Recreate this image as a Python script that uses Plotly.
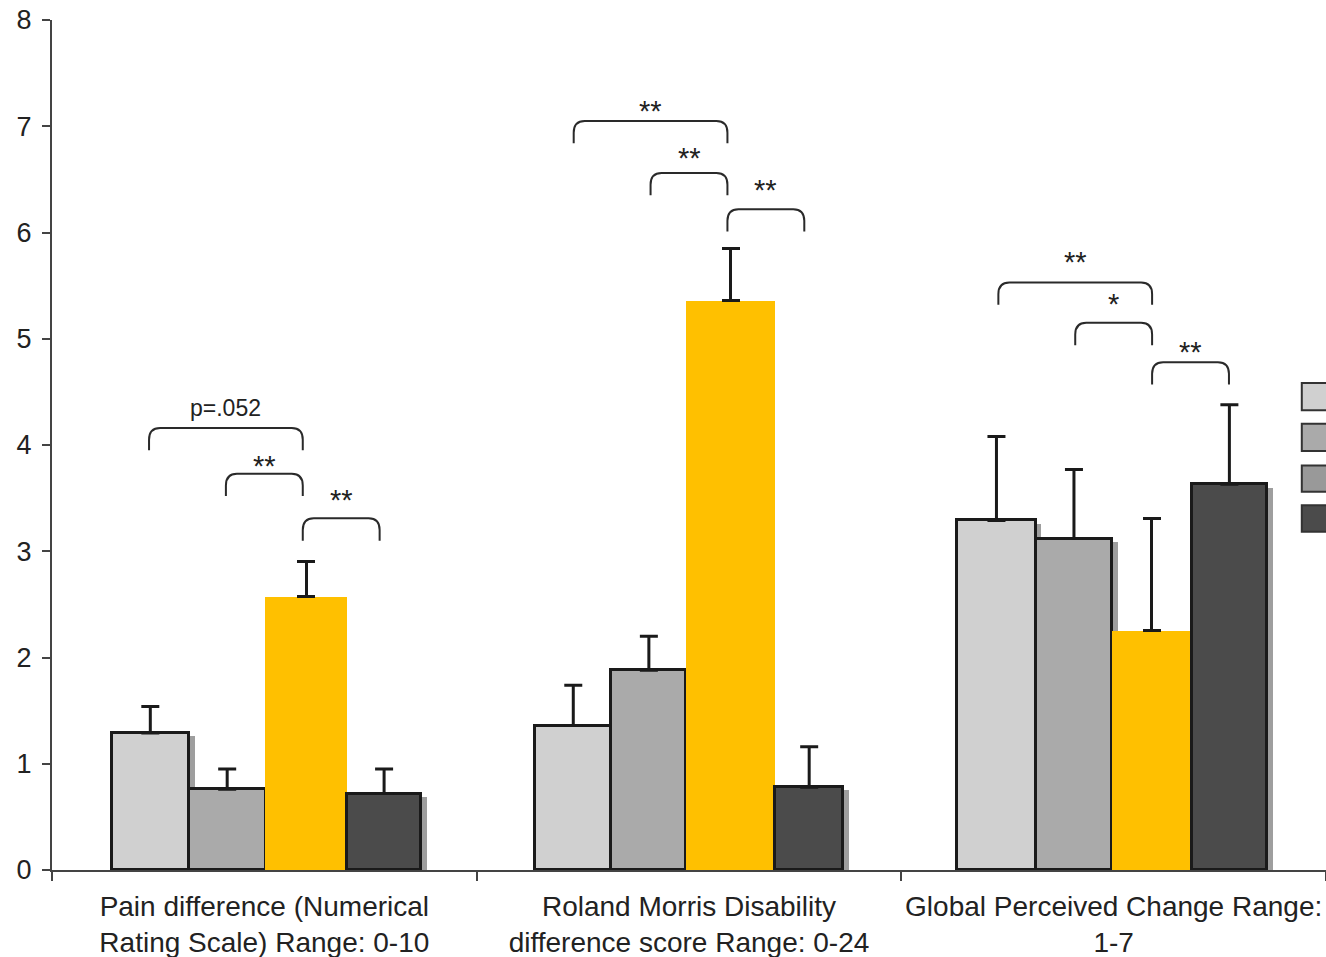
import plotly.graph_objects as go

# Outcome measures (x categories)
categories = [
    "Pain difference (Numerical<br>Rating Scale) Range: 0-10",
    "Roland Morris Disability<br>difference score Range: 0-24",
    "Global Perceived Change Range:<br>1-7",
]

# Group means and upper error (SE) per treatment arm
series_names = ["Group A", "Group B", "Group C", "Group D"]
means_a = [1.29, 1.36, 3.29]
means_b = [0.76, 1.88, 3.12]
means_c = [2.57, 5.36, 2.25]
means_d = [0.72, 0.78, 3.63]
err_top_a = [1.54, 1.74, 4.08]
err_top_b = [0.95, 2.20, 3.77]
err_top_c = [2.90, 5.85, 3.31]
err_top_d = [0.95, 1.16, 4.38]

# Significance brackets: (category, from bar, to bar, bracket height, label height, label)
brackets = [
    (0, 0, 2, 4.16, 4.35, "p=.052"),
    (0, 1, 2, 3.73, 3.88, "**"),
    (0, 2, 3, 3.31, 3.56, "**"),
    (1, 0, 2, 7.05, 7.22, "**"),
    (1, 1, 2, 6.56, 6.78, "**"),
    (1, 2, 3, 6.22, 6.48, "**"),
    (2, 0, 2, 5.53, 5.80, "**"),
    (2, 1, 2, 5.15, 5.40, "*"),
    (2, 2, 3, 4.78, 4.95, "**"),
]

means = [means_a, means_b, means_c, means_d]
err_tops = [err_top_a, err_top_b, err_top_c, err_top_d]

fills = ["#d0d0d0", "#aaaaaa", "#ffc000", "#4b4b4b"]
outline = ["#1a1a1a", "#1a1a1a", None, "#1a1a1a"]
# bar placement within each category (per category, in axis units)
offsets = [
    [-0.359, -0.362, -0.368],
    [-0.178, -0.183, -0.184],
    [0.002, -0.007, -0.004],
    [0.195, 0.203, 0.184],
]
widths = [
    [0.181, 0.179, 0.184],
    [0.181, 0.177, 0.181],
    [0.193, 0.210, 0.188],
    [0.174, 0.160, 0.177],
]
slot_start, slot_w = -0.362, 0.181   # nominal slots used by the brackets
shadow_dx = 0.014

xpos = list(range(len(categories)))

fig = go.Figure()

# drop shadows under the grey bars
for k in (0, 1, 3):
    fig.add_trace(go.Bar(
        x=xpos, y=[v - 0.03 for v in means[k]],
        offset=[o + shadow_dx for o in offsets[k]], width=widths[k],
        marker=dict(color="#9e9e9e", line=dict(width=0)),
        showlegend=False, hoverinfo="skip",
    ))

for k in range(4):
    plus = [t - m for t, m in zip(err_tops[k], means[k])]
    fig.add_trace(go.Bar(
        x=xpos, y=means[k], name=series_names[k],
        offset=offsets[k], width=widths[k],
        marker=dict(
            color=fills[k],
            line=dict(color=outline[k] or fills[k], width=3 if outline[k] else 0),
        ),
        error_y=dict(type="data", symmetric=False, array=plus,
                     arrayminus=[0] * len(plus), color="#1a1a1a",
                     thickness=3, width=9),
        showlegend=False,
    ))

shapes = []
annotations = []
rx, ry, leg = 0.026, 0.11, 0.21
for g, i, j, yt, ylab, label in brackets:
    x0 = g + slot_start + slot_w * (i + 0.5)
    x1 = g + slot_start + slot_w * (j + 0.5)
    yb = yt - leg
    path = (f"M {x0},{yb} L {x0},{yt - ry} Q {x0},{yt} {x0 + rx},{yt} "
            f"L {x1 - rx},{yt} Q {x1},{yt} {x1},{yt - ry} L {x1},{yb}")
    shapes.append(dict(type="path", path=path, xref="x", yref="y",
                       line=dict(color="#2a2a2a", width=2)))
    star = label.startswith("*")
    annotations.append(dict(
        x=(x0 + x1) / 2, y=ylab, xref="x", yref="y", text=label,
        showarrow=False, yanchor="middle",
        yshift=-8 if star else 0,
        font=dict(size=29 if star else 23, color="#222222",
                  family="Liberation Sans, Arial, sans-serif"),
    ))

# legend swatches at the right edge
swatch_colors = ["#d0d0d0", "#aaaaaa", "#999999", "#4b4b4b"]
swatch_y = [(0.541, 0.573), (0.493, 0.525), (0.445, 0.476), (0.398, 0.429)]
for c, (y0, y1) in zip(swatch_colors, swatch_y):
    shapes.append(dict(type="rect", xref="paper", yref="paper",
                       x0=0.981, x1=1.03, y0=y0, y1=y1,
                       fillcolor=c, line=dict(color="#333333", width=2)))

fig.update_layout(
    width=1326, height=957,
    margin=dict(l=52, r=0, t=20, b=87),
    paper_bgcolor="white", plot_bgcolor="white",
    barmode="overlay", bargap=0,
    font=dict(family="Liberation Sans, Arial, sans-serif", color="#222222"),
    shapes=shapes, annotations=annotations,
    showlegend=False,
)

fig.update_xaxes(
    range=[-0.5, 2.5], tickvals=xpos, ticktext=categories, ticks="",
    tickfont=dict(size=28, color="#222222"), ticklabelstandoff=10,
    showline=True, linecolor="#444444", linewidth=2, showgrid=False,
    zeroline=False,
    minor=dict(tickvals=[-0.5, 0.5, 1.5, 2.5], ticks="outside", ticklen=9,
               tickwidth=2, tickcolor="#444444", showgrid=False),
)
fig.update_yaxes(
    range=[0, 8], tickvals=list(range(9)), ticks="outside", ticklen=8,
    tickwidth=2, tickcolor="#444444",
    tickfont=dict(size=27, color="#222222"), ticklabelstandoff=5,
    showline=True, linecolor="#444444", linewidth=2, showgrid=False,
    zeroline=False,
)

fig.write_html("out.html")
